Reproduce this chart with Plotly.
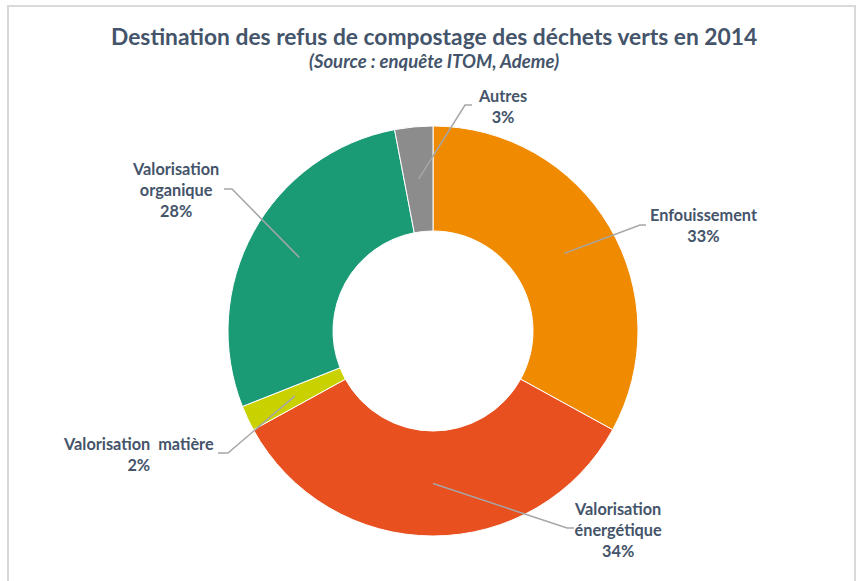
import math
import plotly.graph_objects as go

# Data
categories = ["Enfouissement", "Valorisation énergétique", "Valorisation matière",
              "Valorisation organique", "Autres"]
values = [33, 34, 2, 28, 3]
label_lines = [["Enfouissement"], ["Valorisation", "énergétique"], ["Valorisation  matière"],
               ["Valorisation", "organique"], ["Autres"]]
colors = ["#F08A00", "#E8501F", "#C9D200", "#1B9A76", "#8C8C8C"]

W, H = 857, 581
CX, CY, R_OUT, R_IN = 433, 331, 205, 100
TEXT = "#44546A"
FONT = "Lato"

# label layout: (elbow x, elbow y, tail end x, label centre x, label centre y)
label_layout = [
    (640, 225, 646, 703, 225),
    (567, 528, 574, 618, 529),
    (228, 453, 218, 138, 454),
    (232, 189, 224, 175, 189),
    (465, 105, 472, 502, 106),
]

fig = go.Figure()
fig.add_trace(go.Pie(
    labels=categories, values=values, sort=False, direction="clockwise", rotation=0,
    hole=R_IN / R_OUT, textinfo="none", hoverinfo="label+percent",
    marker=dict(colors=colors, line=dict(color="white", width=1)),
    domain=dict(x=[(CX - R_OUT) / W, (CX + R_OUT) / W],
                y=[(H - CY - R_OUT) / H, (H - CY + R_OUT) / H]),
    showlegend=False,
))

total = sum(values)
cum = 0
shapes = []
annotations = []
r_mid = (R_OUT + R_IN) / 2
for v, lines, lay in zip(values, label_lines, label_layout):
    theta = 2 * math.pi * (cum + v / 2) / total
    cum += v
    ax = CX + r_mid * math.sin(theta)
    ay = CY - r_mid * math.cos(theta)
    ex, ey, tx, lx, ly = lay
    shapes.append(dict(type="path", xref="x", yref="y", layer="above",
                       path=f"M{ax:.1f},{ay:.1f} L{ex},{ey} L{tx},{ey}",
                       line=dict(color="#A6A6A6", width=1.5)))
    pct = round(100 * v / total)
    text = "<br>".join(lines + [f"{pct}%"])
    annotations.append(dict(x=lx, y=ly, xref="x", yref="y", text=f"<b>{text}</b>",
                            showarrow=False, align="center", xanchor="center", yanchor="middle",
                            font=dict(family=FONT, size=16.3, color=TEXT)))

# frame around the chart area
shapes.append(dict(type="rect", xref="x", yref="y", x0=8, y0=6, x1=855, y1=600,
                   line=dict(color="#D9D9D9", width=2), layer="above"))

annotations.append(dict(x=434, y=36, xref="x", yref="y", showarrow=False,
                        text="<b>Destination des refus de compostage des déchets verts en 2014</b>",
                        font=dict(family=FONT, size=22.8, color=TEXT), xanchor="center", yanchor="middle"))
annotations.append(dict(x=434, y=61, xref="x", yref="y", showarrow=False,
                        text="<b><i>(Source : enquête ITOM, Ademe)</i></b>",
                        font=dict(family=FONT, size=18.5, color=TEXT), xanchor="center", yanchor="middle"))

fig.update_layout(
    width=W, height=H, margin=dict(l=0, r=0, t=0, b=0),
    paper_bgcolor="white", plot_bgcolor="rgba(0,0,0,0)",
    xaxis=dict(range=[0, W], visible=False, fixedrange=True),
    yaxis=dict(range=[H, 0], visible=False, fixedrange=True),
    shapes=shapes, annotations=annotations,
)

fig.write_html("out.html")
